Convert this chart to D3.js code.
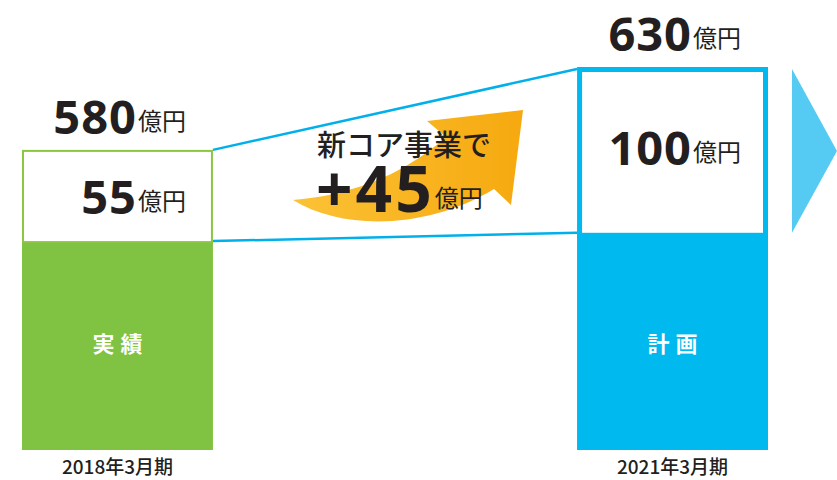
<!DOCTYPE html>
<html>
<head>
<meta charset="utf-8">
<script src="https://d3js.org/d3.v7.min.js"></script>
<style>
  body { margin: 0; background: #fff; }
  svg { display: block; }
</style>
</head>
<body>
<div id="chart"></div>
<script>
const WIDTH = 837;
const HEIGHT = 480;

// === DATA ===
const periods = ["2018年3月期", "2021年3月期"];
const totals = [580, 630];          // 億円
const coreValues = [55, 100];       // 新コア事業 億円
const barLabels = ["実績", "計画"];
const increase = 45;

const barColors = ["#80c241", "#00b9ef"];
const borderColors = ["#8cc63f", "#00b9ef"];
const borderWidths = [2, 5];

const JP = "'Noto Sans CJK JP', sans-serif";
const NUM = "'Open Sans', 'Noto Sans CJK JP', sans-serif";
const INK = "#231f20";

const svg = d3.select("#chart")
    .append("svg")
    .attr("width", WIDTH)
    .attr("height", HEIGHT);

// broken baseline: bars start from ~399 so the difference reads clearly
const x = d3.scaleBand()
    .domain(periods)
    .range([22, 768])
    .paddingInner(0.656)
    .paddingOuter(0);

const y = d3.scaleLinear()
    .domain([399, 630])
    .range([450, 67]);

const bw = x.bandwidth();

const bars = periods.map((p, i) => ({
    period: p,
    total: totals[i],
    core: coreValues[i],
    label: barLabels[i],
    i: i
}));

// === ARROW GRADIENT ===
const defs = svg.append("defs");
const grad = defs.append("linearGradient")
    .attr("id", "orange")
    .attr("x1", "0%").attr("x2", "100%")
    .attr("y1", "0%").attr("y2", "0%");
grad.append("stop").attr("offset", "0%").attr("stop-color", "#fbc236");
grad.append("stop").attr("offset", "100%").attr("stop-color", "#f6a90f");

// === ORANGE ARROW (decoration) ===
svg.append("path")
    .attr("d", "M293,200 C345,232 430,228 494,189 L511,205 L523,110 L427,121 L446,137 C400,178 345,196 293,200 Z")
    .attr("fill", "url(#orange)");

// === CONNECTING LINES ===
const b0 = bars[0], b1 = bars[1];
const conn = [
    { x1: x(b0.period) + bw, y1: y(b0.total), x2: x(b1.period), y2: y(b1.total) + 2 },
    { x1: x(b0.period) + bw, y1: y(b0.total - b0.core), x2: x(b1.period), y2: y(b1.total - b1.core) }
];
svg.selectAll(".conn")
    .data(conn)
    .enter()
    .append("line")
    .attr("class", "conn")
    .attr("x1", d => d.x1).attr("y1", d => d.y1)
    .attr("x2", d => d.x2).attr("y2", d => d.y2)
    .attr("stroke", "#00b0ea")
    .attr("stroke-width", 2.5);

// === BARS ===
const g = svg.selectAll(".bar")
    .data(bars)
    .enter()
    .append("g")
    .attr("class", "bar");

// base (existing business)
g.append("rect")
    .attr("x", d => x(d.period))
    .attr("y", d => y(d.total - d.core))
    .attr("width", bw)
    .attr("height", d => y(y.domain()[0]) - y(d.total - d.core))
    .attr("fill", d => barColors[d.i]);

// core business box
g.append("rect")
    .attr("x", d => x(d.period) + borderWidths[d.i] / 2)
    .attr("y", d => y(d.total) + borderWidths[d.i] / 2)
    .attr("width", d => bw - borderWidths[d.i])
    .attr("height", d => y(d.total - d.core) - y(d.total))
    .attr("fill", "#fff")
    .attr("stroke", d => borderColors[d.i])
    .attr("stroke-width", d => borderWidths[d.i]);

// bar label
g.append("text")
    .attr("x", d => x(d.period) + bw / 2 + 3)
    .attr("y", 352)
    .attr("text-anchor", "middle")
    .attr("fill", "#fff")
    .style("font-family", JP)
    .style("font-weight", 700)
    .style("font-size", "22px")
    .style("letter-spacing", "6px")
    .text(d => d.label);

// period label
g.append("text")
    .attr("x", d => x(d.period) + bw / 2)
    .attr("y", 474)
    .attr("text-anchor", "middle")
    .attr("fill", INK)
    .style("font-family", JP)
    .style("font-weight", 500)
    .style("font-size", "19px")
    .text(d => d.period);

// value labels with 億円 unit
function valueLabel(sel, xf, yf, val, size) {
    const t = sel.append("text")
        .attr("x", xf)
        .attr("y", yf)
        .attr("text-anchor", "end")
        .attr("fill", INK);
    t.append("tspan")
        .style("font-family", NUM)
        .style("font-weight", 700)
        .style("font-size", size + "px")
        .style("letter-spacing", "1px")
        .text(val);
    t.append("tspan")
        .attr("dx", 1)
        .attr("dy", -4)
        .style("font-family", JP)
        .style("font-size", "24px")
        .text("億円");
    return t;
}

g.each(function(d) {
    const s = d3.select(this);
    const right = x(d.period) + bw - 27;
    valueLabel(s, right, y(d.total) - 16, d.total, 47);
    valueLabel(s, right, y(d.total - d.core) - (d.i === 0 ? 27 : 68), d.core, 47);
});

// === CENTER ANNOTATION ===
svg.append("text")
    .attr("x", 317)
    .attr("y", 156)
    .attr("fill", INK)
    .style("font-family", JP)
    .style("font-weight", 500)
    .style("font-size", "29px")
    .text("新コア事業で");

const inc = svg.append("text")
    .attr("x", 316)
    .attr("y", 212)
    .attr("fill", INK);
inc.append("tspan")
    .style("font-family", NUM)
    .style("font-weight", 700)
    .style("font-size", "64px")
    .style("letter-spacing", "3px")
    .text("+" + increase);
inc.append("tspan")
    .attr("dx", 0)
    .attr("dy", -5)
    .style("font-family", JP)
    .style("font-size", "24px")
    .text("億円");

// === NEXT ARROW (right edge) ===
const ax = x(b1.period) + bw + 24;
const aTop = y(b1.total) + 2;
const aBot = y(b1.total - b1.core);
svg.append("path")
    .attr("d", `M${ax},${aTop} L${ax + 45},${(aTop + aBot) / 2} L${ax},${aBot} Z`)
    .attr("fill", "#55cbf3");
</script>
</body>
</html>
